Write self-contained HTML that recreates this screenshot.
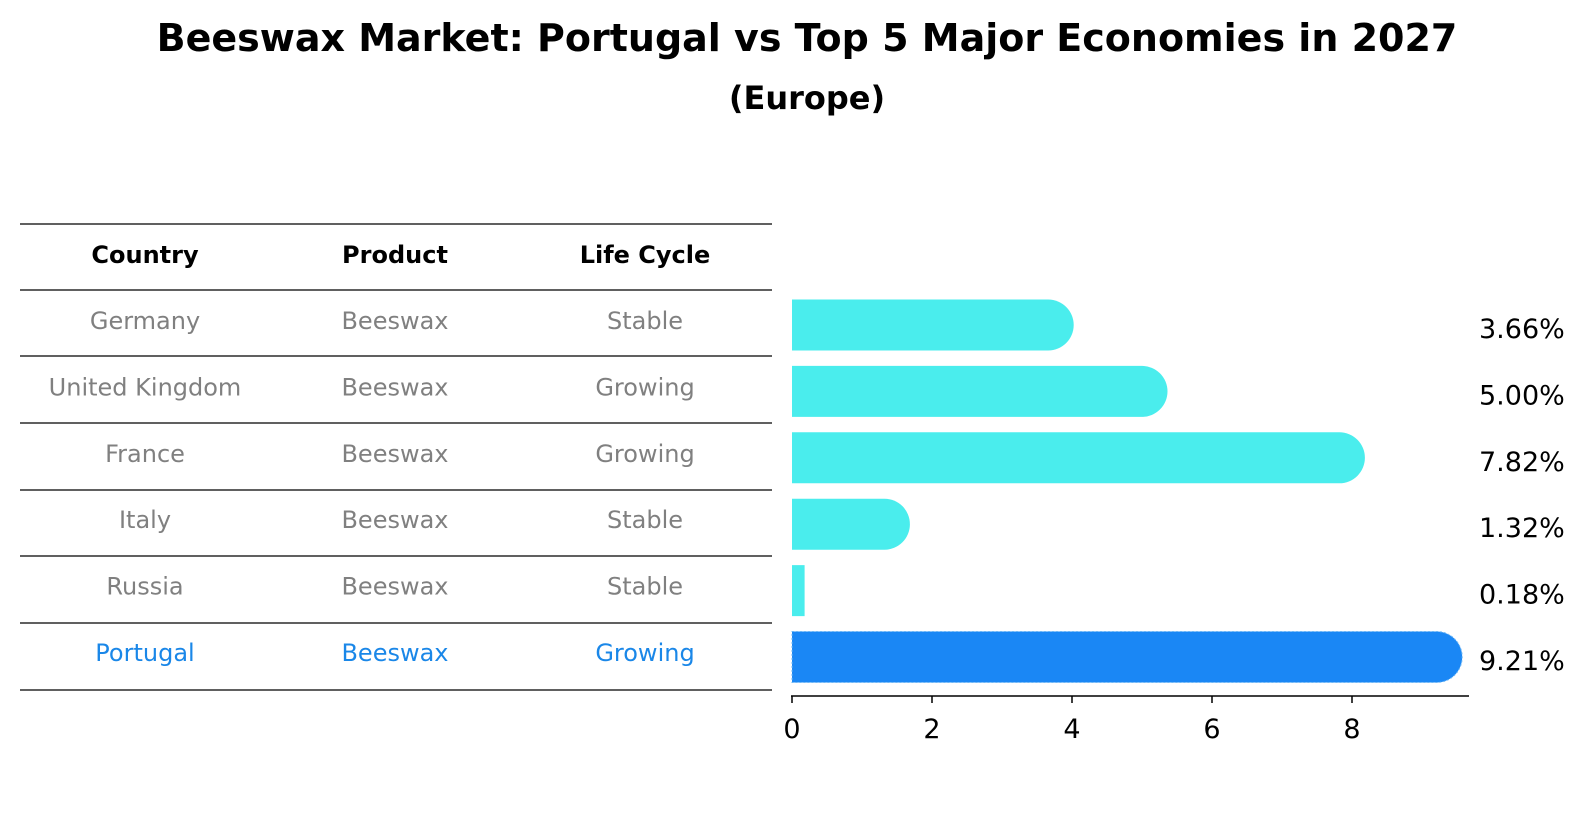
<!DOCTYPE html>
<html><head><meta charset="utf-8">
<style>
body{margin:0;background:#fff;font-family:"Liberation Sans","DejaVu Sans",sans-serif;}
svg{display:block}
</style></head>
<body>
<svg id="c" width="1586" height="823" xmlns="http://www.w3.org/2000/svg">
<rect width="1586" height="823" fill="#fff"/>
<text x="807" y="51" text-anchor="middle" font-size="38" font-weight="bold" font-family="DejaVu Sans, sans-serif">Beeswax Market: Portugal vs Top 5 Major Economies in 2027</text>
<text x="807" y="109" text-anchor="middle" font-size="32" font-weight="bold" font-family="DejaVu Sans, sans-serif">(Europe)</text>
<g id="table"></g>
<g id="bars"></g>
</svg>
<script>
const countries=["Germany","United Kingdom","France","Italy","Russia","Portugal"];
const products=["Beeswax","Beeswax","Beeswax","Beeswax","Beeswax","Beeswax"];
const lifecycle=["Stable","Growing","Growing","Stable","Stable","Growing"];
const values=[3.66,5.00,7.82,1.32,0.18,9.21];
const ticks=[0,2,4,6,8];
const NS="http://www.w3.org/2000/svg";
function mk(tag,attrs,parent,txt){const e=document.createElementNS(NS,tag);for(const k in attrs)e.setAttribute(k,attrs[k]);if(txt!==undefined)e.textContent=txt;parent.appendChild(e);return e;}
const x=v=>792+v*70;
const rowY=i=>325+i*66.4;
const tbl=document.getElementById('table');
const bars=document.getElementById('bars');
const font="DejaVu Sans, sans-serif";
const lineYs=[224,290,356,423,490,556,623,690];
lineYs.forEach((ly,i)=>{
  const l=mk('line',{x1:20,x2:772,y1:ly,y2:ly,stroke:'#000','stroke-width':1.2},tbl);
  
  
});
const colX=[145,395,645];
["Country","Product","Life Cycle"].forEach((h,j)=>{
  const t=mk('text',{x:colX[j],y:263,'text-anchor':'middle','font-size':24,'font-weight':'bold','font-family':font},tbl,h);
  
  
});
countries.forEach((c,i)=>{
  const col=i===countries.length-1?'#1a87e8':'#808080';
  const cy=rowY(i);
  [c,products[i],lifecycle[i]].forEach((v,j)=>{
    const t=mk('text',{x:colX[j],y:cy+4,'text-anchor':'middle','font-size':24,fill:col,'font-family':font},tbl,v);
    
    
  });
  const r=25.5, top=rowY(i)-r, w=x(values[i])-x(0);
  const fill=i===countries.length-1?'#1a87f5':'#4aeded';
  let d;
  if(w>r){d=`M${x(0)},${top} H${x(values[i])} A${r},${r} 0 0 1 ${x(values[i])},${top+2*r} H${x(0)} Z`;}
  else{d=`M${x(0)},${top} H${x(values[i])} V${top+2*r} H${x(0)} Z`;}
  const p=mk('path',{d:d,fill:fill},bars);
  if(i===countries.length-1){p.setAttribute('stroke','#6fb8f5');p.setAttribute('stroke-dasharray','2,2');p.setAttribute('stroke-width','1');}
  
  
  const lt=mk('text',{x:1479,y:rowY(i)+13,'font-size':27,'font-family':font},bars,values[i].toFixed(2)+'%');
  
  
});
const ax=mk('line',{x1:791,x2:1469,y1:696,y2:696,stroke:'#000','stroke-width':1.5},bars);


ticks.forEach(t=>{
  const tl=mk('line',{x1:x(t),x2:x(t),y1:696,y2:703,stroke:'#000','stroke-width':1.5},bars);
  
  
  const tt=mk('text',{x:x(t),y:738,'text-anchor':'middle','font-size':27,'font-family':font},bars,String(t));
  
  
});
</script>
</body></html>
